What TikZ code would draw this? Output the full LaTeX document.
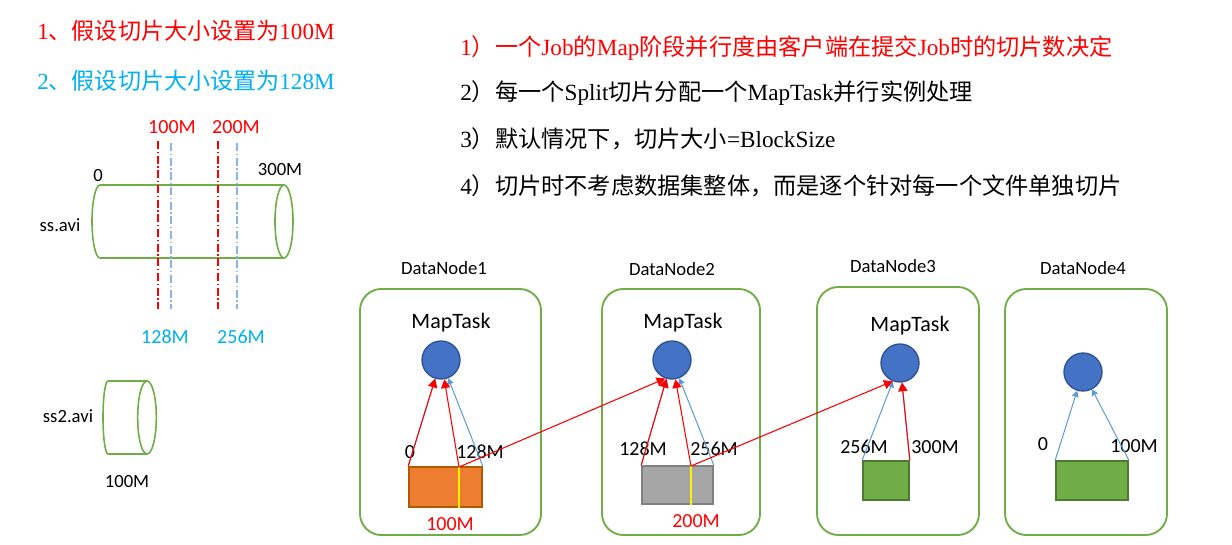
\documentclass[tikz,border=0pt]{standalone}
\usepackage{fontspec}
\setmainfont{Liberation Serif}
\newfontfamily\cjk{Noto Sans CJK SC}
\newfontfamily\lbl{Carlito}
\usetikzlibrary{arrows.meta}

\definecolor{splitred}{HTML}{FF0000}
\definecolor{splitcyan}{HTML}{00B0F0}
\definecolor{dashblue}{HTML}{8DB3E2}
\definecolor{arrowblue}{HTML}{5B9BD5}
\definecolor{nodegreen}{HTML}{70AD47}
\definecolor{taskblue}{HTML}{4472C4}
\definecolor{taskedge}{HTML}{2F528F}

\tikzset{
  dnbox/.style={draw=nodegreen, line width=1.4pt, rounded corners=16pt},
  cylline/.style={draw=nodegreen, line width=1.2pt},
  maptask/.style={circle, draw=taskedge, fill=taskblue, line width=1pt, minimum size=28.5pt, inner sep=0pt},
  block/.style={line width=1.2pt, inner sep=0pt},
  redline/.style={draw=splitred, line width=0.8pt, -{Triangle[length=6.5pt, width=7pt]}},
  blueline/.style={draw=arrowblue, line width=0.75pt, -{Triangle[length=4.5pt, width=5pt]}},
  cutline/.style={line width=0.8pt, dash pattern=on 6pt off 2pt on 1pt off 2pt},
  lab/.style={font=\lbl\fontsize{15}{18}\selectfont, inner sep=0pt},
  note/.style={anchor=west, inner sep=0pt}
}

\begin{document}
\begin{tikzpicture}[x=0.75pt, y=-0.75pt]
  \useasboundingbox (0,0) rectangle (1232,545);

  % Define the font sizes of the notes
  \def\NoteSize{\fontsize{17.3}{20}\selectfont}
  \def\RuleSize{\fontsize{17.4}{21}\selectfont}

  % Notes on the split size
  \node[note, text=splitred, font=\NoteSize] (note1) at (37,31) {1{\cjk 、假设切片大小设置为}100M};
  \node[note, text=splitcyan, font=\NoteSize] (note2) at (37,81) {2{\cjk 、假设切片大小设置为}128M};

  % Rules of the splitting
  \node[note, text=splitred, font=\RuleSize] (rule1) at (460,48) {1{\cjk ）一个}Job{\cjk 的}Map{\cjk 阶段并行度由客户端在提交}Job{\cjk 时的切片数决定}};
  \node[note, font=\RuleSize] (rule2) at (460,93) {2{\cjk ）每一个}Split{\cjk 切片分配一个}MapTask{\cjk 并行实例处理}};
  \node[note, font=\RuleSize] (rule3) at (460,139) {3{\cjk ）默认情况下，切片大小}=BlockSize};
  \node[note, font=\RuleSize] (rule4) at (460,186) {4{\cjk ）切片时不考虑数据集整体，而是逐个针对每一个文件单独切片}};

  % Draw the file ss.avi
  \draw[cylline] (100,185) -- (284,185);
  \draw[cylline] (100,258) -- (284,258);
  \draw[cylline] (100,185) arc[start angle=90, end angle=270, x radius=6pt, y radius=27.375pt];
  \draw[cylline] (284,221.5) ellipse[x radius=6.75pt, y radius=27.375pt];
  \node[lab, font=\lbl\fontsize{14}{17}\selectfont] (file1) at (60,225) {ss.avi};
  \node[lab, font=\lbl\fontsize{14}{17}\selectfont] (start1) at (98,176) {0};
  \node[lab, font=\lbl\fontsize{14}{17}\selectfont] (end1) at (280,170) {300M};

  % Draw the cut lines
  \draw[cutline, splitred] (158,141) -- (158,309);
  \draw[cutline, splitred] (218,141) -- (218,309);
  \draw[cutline, dashblue] (171,143) -- (171,309);
  \draw[cutline, dashblue] (237,143) -- (237,309);
  \node[lab, text=splitred] (cut100) at (172,127) {100M};
  \node[lab, text=splitred] (cut200) at (236,127) {200M};
  \node[lab, text=splitcyan] (cut128) at (165,337) {128M};
  \node[lab, text=splitcyan] (cut256) at (241,337) {256M};

  % Draw the file ss2.avi
  \draw[cylline] (108,381) -- (147,381);
  \draw[cylline] (108,454) -- (147,454);
  \draw[cylline] (108,381) arc[start angle=90, end angle=270, x radius=3.75pt, y radius=27.375pt];
  \draw[cylline] (147,417.5) ellipse[x radius=7pt, y radius=27.375pt];
  \node[lab, font=\lbl\fontsize{14}{17}\selectfont] (file2) at (68,416) {ss2.avi};
  \node[lab, font=\lbl\fontsize{14}{17}\selectfont] (size2) at (127,482) {100M};

  % Draw the data nodes
  \draw[dnbox] (360,289) rectangle (541,535);
  \draw[dnbox] (602,289) rectangle (760,535);
  \draw[dnbox] (817,287) rectangle (979,535);
  \draw[dnbox] (1005,289) rectangle (1167,535);
  \foreach \name/\x/\y in {DataNode1/444/268, DataNode2/672/269, DataNode3/893/266, DataNode4/1083/268}
    \node[lab, font=\lbl\fontsize{14}{17}\selectfont] (\name) at (\x,\y) {\name};

  % Draw the map tasks
  \node[maptask] (t1) at (441,360) {};
  \node[maptask] (t2) at (672,360) {};
  \node[maptask] (t3) at (900,363) {};
  \node[maptask] (t4) at (1083,372) {};
  \node[lab, font=\lbl\fontsize{16.5}{19}\selectfont] (m1) at (451,323) {MapTask};
  \node[lab, font=\lbl\fontsize{16.5}{19}\selectfont] (m2) at (683,323) {MapTask};
  \node[lab, font=\lbl\fontsize{16.5}{19}\selectfont] (m3) at (910,326) {MapTask};

  % Draw the blocks
  \node[block, draw=orange!70!black, fill={rgb,255:red,237;green,125;blue,49}, minimum width=54.75pt, minimum height=30pt] (b1) at (445.5,487) {};
  \node[block, draw=black!50, fill=black!35, minimum width=53.25pt, minimum height=28.5pt] (b2) at (677.5,485) {};
  \node[block, draw=nodegreen!70!black, fill=nodegreen, minimum width=34.5pt, minimum height=29.25pt] (b3) at (886,480.5) {};
  \node[block, draw=nodegreen!70!black, fill=nodegreen, minimum width=54pt, minimum height=29.25pt] (b4) at (1092,480.5) {};

  % Mark the 100M and 200M positions
  \coordinate (s1) at (459,467);
  \coordinate (s2) at (691,466);
  \draw[yellow, line width=2.2pt] (s1) -- (459,508);
  \draw[yellow, line width=2.2pt] (s2) -- (691,505);

  % Label the block offsets
  \node[lab] (o1a) at (410,452) {0};
  \node[lab] (o1b) at (480,452) {128M};
  \node[lab] (o2a) at (643,449) {128M};
  \node[lab] (o2b) at (714,449) {256M};
  \node[lab] (o3a) at (864,447) {256M};
  \node[lab] (o3b) at (935,447) {300M};
  \node[lab] (o4a) at (1043,444) {0};
  \node[lab] (o4b) at (1134,446) {100M};
  \node[lab, text=splitred] (c1) at (450,524) {100M};
  \node[lab, text=splitred] (c2) at (696,521) {200M};

  % Splits of 128M
  \draw[blueline] (b1.north west) -- (t1);
  \draw[blueline] (b1.north east) -- (t1);
  \draw[blueline] (b2.north west) -- (t2);
  \draw[blueline] (b2.north east) -- (t2);
  \draw[blueline] (b3.north west) -- (t3);
  \draw[blueline] (b3.north east) -- (t3);
  \draw[blueline] (b4.north west) -- (t4);
  \draw[blueline] (b4.north east) -- (t4);

  % Splits of 100M
  \draw[redline] (b1.north west) -- (t1);
  \draw[redline] (s1) -- (t1);
  \draw[redline] (s1) -- (t2.250);
  \draw[redline] (b2.north west) -- (t2);
  \draw[redline] (s2) -- (t2);
  \draw[redline] (s2) -- (t3.248);
  \draw[redline] (b3.north east) -- (t3);
\end{tikzpicture}
\end{document}
